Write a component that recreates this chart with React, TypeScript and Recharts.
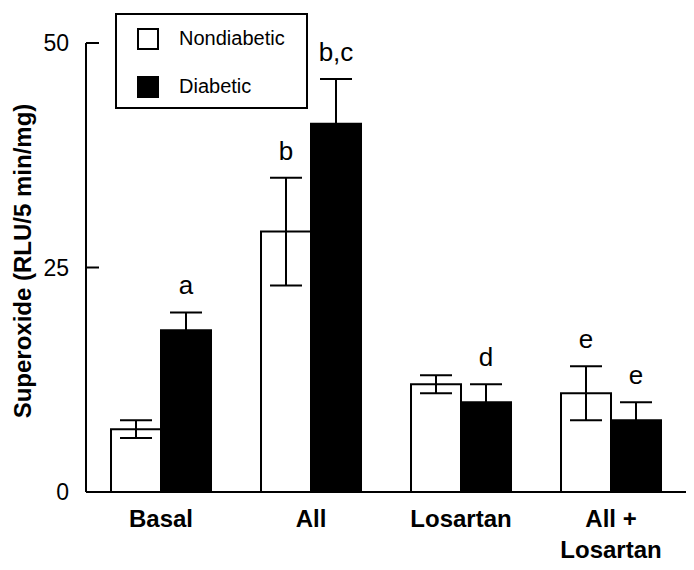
import React from 'react';
import { BarChart, Bar, XAxis, YAxis, ErrorBar, LabelList, Legend, Label } from 'recharts';

const categories = ['Basal', 'All', 'Losartan', 'All +\nLosartan'];
const nondiabetic = [7, 29, 12, 11];
const nondiabeticErr = [1, 6, 1, 3];
const diabetic = [18, 41, 10, 8];
const diabeticErr = [2, 5, 2, 2];
const nondiabeticLetters = ['', 'b', '', 'e'];
const diabeticLetters = ['a', 'b,c', 'd', 'e'];
const yTicks = [0, 25, 50];

const data = categories.map((c, i) => ({
  name: c,
  nd: nondiabetic[i],
  ndErr: nondiabeticErr[i],
  d: diabetic[i],
  dErr: diabeticErr[i],
}));

const FONT = 'Liberation Sans, Arial, Helvetica, sans-serif';

const YTick = (props: any) => {
  const { x, y, payload } = props;
  return (
    <g>
      <line x1={x} y1={y} x2={x + 13} y2={y} stroke="#000" strokeWidth={2} />
      <text x={x - 17} y={y} textAnchor="end" dominantBaseline="central" fontFamily={FONT} fontSize={23} fill="#000">
        {payload.value}
      </text>
    </g>
  );
};

const XTick = (props: any) => {
  const { x, y, payload } = props;
  const lines = String(payload.value).split('\n');
  return (
    <g>
      {lines.map((l, i) => (
        <text key={i} x={x} y={y + 35 + i * 31} textAnchor="middle" fontFamily={FONT} fontWeight="bold" fontSize={24} fill="#000">
          {l}
        </text>
      ))}
    </g>
  );
};

const makeLetterLabel = (letters: string[], errs: number[], values: number[]) => (props: any) => {
  const { x, y, width, height, index } = props;
  const t = letters[index];
  if (!t) return null;
  const ppu = height / values[index];
  const top = y - errs[index] * ppu;
  return (
    <text x={x + width / 2} y={top - 18} textAnchor="middle" fontFamily={FONT} fontSize={26} fill="#000">
      {t}
    </text>
  );
};

const LegendBox = () => (
  <div
    style={{
      width: 193,
      height: 96,
      boxSizing: 'border-box',
      border: '2px solid #000',
      background: '#fff',
      position: 'relative',
      fontFamily: FONT,
      fontSize: 20,
      color: '#000',
    }}
  >
    <div style={{ position: 'absolute', left: 20, top: 13, width: 22, height: 22, boxSizing: 'border-box', border: '2px solid #000', background: '#fff' }} />
    <div style={{ position: 'absolute', left: 62, top: 10, lineHeight: '26px' }}>Nondiabetic</div>
    <div style={{ position: 'absolute', left: 20, top: 61, width: 22, height: 22, background: '#000' }} />
    <div style={{ position: 'absolute', left: 62, top: 58, lineHeight: '26px' }}>Diabetic</div>
  </div>
);

export default function App() {
  return (
    <div style={{ position: 'absolute', left: 0, top: 0, background: '#fff' }}>
      <BarChart
        width={694}
        height={570}
        data={data}
        margin={{ top: 43, right: 8, left: 0, bottom: 0 }}
        barCategoryGap="16.67%"
        barGap={0}
      >
        <XAxis
          dataKey="name"
          height={78}
          tickLine={false}
          tickSize={0}
          tickMargin={0}
          axisLine={{ stroke: '#000', strokeWidth: 2 }}
          tick={<XTick />}
          interval={0}
        />
        <YAxis
          width={86}
          domain={[0, 50]}
          ticks={yTicks}
          tickLine={false}
          tickSize={0}
          tickMargin={0}
          axisLine={{ stroke: '#000', strokeWidth: 2 }}
          tick={<YTick />}
        >
          <Label
            content={() => (
              <text transform="translate(31,261) rotate(-90)" textAnchor="middle" fontFamily={FONT} fontWeight="bold" fontSize={24} fill="#000">
                Superoxide (RLU/5 min/mg)
              </text>
            )}
          />
        </YAxis>
        <Legend
          layout="vertical"
          align="center"
          verticalAlign="middle"
          wrapperStyle={{ left: 115, top: 13, width: 193, height: 96 }}
          content={() => <LegendBox />}
        />
        <Bar dataKey="nd" name="Nondiabetic" fill="#fff" stroke="#000" strokeWidth={2} isAnimationActive={false}>
          <ErrorBar dataKey="ndErr" width={16} stroke="#000" strokeWidth={2} direction="y" />
          <LabelList dataKey="nd" content={makeLetterLabel(nondiabeticLetters, nondiabeticErr, nondiabetic)} />
        </Bar>
        <Bar dataKey="d" name="Diabetic" fill="#000" stroke="#000" strokeWidth={2} isAnimationActive={false}>
          <ErrorBar dataKey="dErr" width={16} stroke="#000" strokeWidth={2} direction="y" />
          <LabelList dataKey="d" content={makeLetterLabel(diabeticLetters, diabeticErr, diabetic)} />
        </Bar>
      </BarChart>
    </div>
  );
}
